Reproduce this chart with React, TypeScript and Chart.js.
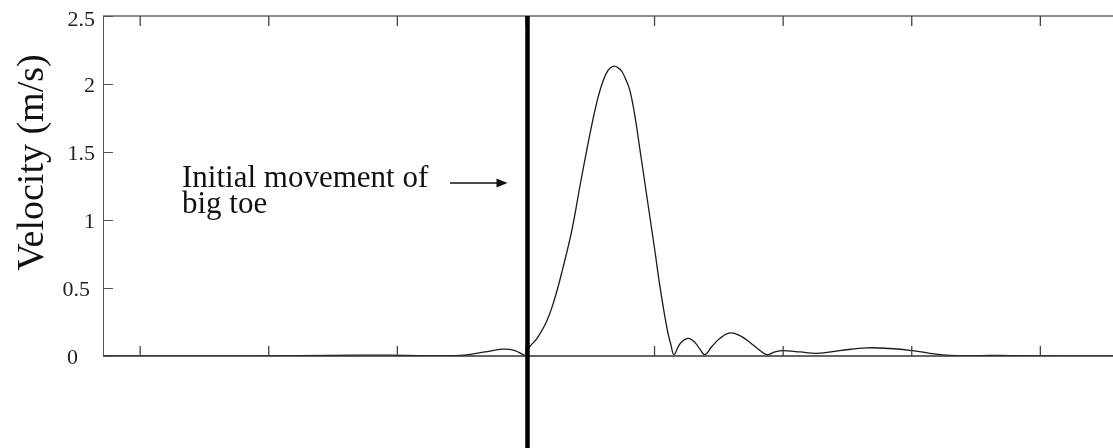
import React, { useEffect, useRef } from "react";
import { Chart, registerables } from "chart.js";

Chart.register(...registerables);

// time axis (tick every 1 unit, no labels shown)
const X_TIME = [
  -3.289, -2.535, -1.757, -1.306, -1.058, -0.824, -0.591, -0.459, -0.319, -0.179,
  -0.086, -0.023, -0.008, 0.031, 0.086, 0.163, 0.226, 0.288, 0.358, 0.42,
  0.474, 0.521, 0.56, 0.599, 0.638, 0.677, 0.715, 0.747, 0.778, 0.809,
  0.848, 0.886, 0.925, 0.964, 1.003, 1.042, 1.073, 1.104, 1.128, 1.151,
  1.198, 1.26, 1.314, 1.353, 1.392, 1.446, 1.509, 1.586, 1.664, 1.742,
  1.82, 1.874, 1.936, 1.998, 2.131, 2.263, 2.442, 2.652, 2.83, 3.002,
  3.142, 3.297, 3.53, 3.686, 3.841, 4.565,
];
const VELOCITY = [
  0, 0, 0.002, 0.006, 0.006, 0.003, 0.003, 0.008, 0.03, 0.05,
  0.04, 0.01, 0.005, 0.07, 0.13, 0.26, 0.43, 0.65, 0.93, 1.25,
  1.52, 1.74, 1.9, 2.02, 2.1, 2.13, 2.12, 2.09, 2.03, 1.95,
  1.76, 1.52, 1.27, 1.02, 0.77, 0.51, 0.33, 0.17, 0.08, 0.01,
  0.09, 0.13, 0.1, 0.05, 0.01, 0.07, 0.13, 0.17, 0.15, 0.1,
  0.04, 0.01, 0.03, 0.04, 0.03, 0.02, 0.04, 0.06, 0.055, 0.04,
  0.02, 0.005, 0.003, 0.004, 0.002, 0,
];
const Y_TICK_LABELS = ["0", "0.5", "1", "1.5", "2", "2.5"];
const X_MIN = -3.289;
const X_MAX = 4.565;
const ONSET = 0.012;
const Y_TITLE = "Velocity (m/s)";
const ANNOTATION_LINES = ["Initial movement of", "big toe"];

// style: right edge of each y tick label (px), as in the original figure
const Y_LABEL_RIGHT = [78, 90, 95, 95, 95, 95];

const framePlugin = {
  id: "frame",
  afterDatasetsDraw(chart: any) {
    const { ctx, chartArea, scales } = chart;
    const xs = scales.x;
    const ys = scales.y;
    const { left, right, top, bottom } = chartArea;
    ctx.save();
    // left axis
    ctx.strokeStyle = "#555";
    ctx.lineWidth = 1;
    ctx.beginPath();
    ctx.moveTo(left + 0.5, top);
    ctx.lineTo(left + 0.5, bottom);
    ctx.stroke();
    // top border
    ctx.strokeStyle = "#666";
    ctx.lineWidth = 1.5;
    ctx.beginPath();
    ctx.moveTo(left, top);
    ctx.lineTo(right, top);
    ctx.stroke();
    // bottom axis
    ctx.strokeStyle = "#333";
    ctx.lineWidth = 1.6;
    ctx.beginPath();
    ctx.moveTo(left, bottom);
    ctx.lineTo(right, bottom);
    ctx.stroke();
    // y ticks (inward) and labels
    ctx.strokeStyle = "#555";
    ctx.lineWidth = 1;
    ctx.fillStyle = "#222";
    ctx.font = "22px 'Liberation Serif', serif";
    ctx.textAlign = "right";
    ctx.textBaseline = "middle";
    ys.ticks.forEach((t: any, i: number) => {
      const yp = ys.getPixelForValue(t.value);
      const py = Math.round(yp) + 0.5;
      ctx.beginPath();
      ctx.moveTo(left, py);
      ctx.lineTo(left + 10, py);
      ctx.stroke();
      const ly = i === ys.ticks.length - 1 ? yp + 4 : yp + 2;
      ctx.fillText(Y_TICK_LABELS[i], Y_LABEL_RIGHT[i], ly);
    });
    // x ticks (inward, bottom and top)
    ctx.strokeStyle = "#444";
    ctx.lineWidth = 1.3;
    xs.ticks.forEach((t: any) => {
      const px = xs.getPixelForValue(t.value);
      if (px <= left + 2 || px >= right - 2) return;
      ctx.beginPath();
      ctx.moveTo(px, bottom);
      ctx.lineTo(px, bottom - 10);
      ctx.moveTo(px, top);
      ctx.lineTo(px, top + 10);
      ctx.stroke();
    });
    // onset line
    const ox = xs.getPixelForValue(ONSET);
    ctx.strokeStyle = "#000";
    ctx.lineWidth = 4.5;
    ctx.beginPath();
    ctx.moveTo(ox, top);
    ctx.lineTo(ox, chart.height);
    ctx.stroke();
    // annotation
    ctx.fillStyle = "#111";
    ctx.font = "31px 'Liberation Serif', serif";
    ctx.textAlign = "left";
    ctx.textBaseline = "alphabetic";
    ctx.fillText(ANNOTATION_LINES[0], 182, 187);
    ctx.fillText(ANNOTATION_LINES[1], 182, 213);
    // arrow
    const ay = 183;
    const tipX = ox - 20;
    ctx.strokeStyle = "#111";
    ctx.lineWidth = 1.5;
    ctx.beginPath();
    ctx.moveTo(450, ay);
    ctx.lineTo(tipX - 8, ay);
    ctx.stroke();
    ctx.beginPath();
    ctx.moveTo(tipX, ay);
    ctx.lineTo(tipX - 11, ay - 4.5);
    ctx.lineTo(tipX - 11, ay + 4.5);
    ctx.closePath();
    ctx.fill();
    // y title
    ctx.save();
    ctx.translate(43, 162.5);
    ctx.rotate(-Math.PI / 2);
    ctx.font = "38px 'Liberation Serif', serif";
    ctx.textAlign = "center";
    ctx.fillText(Y_TITLE, 0, 0);
    ctx.restore();
    ctx.restore();
  },
};

export default function App() {
  const ref = useRef<HTMLCanvasElement>(null);
  useEffect(() => {
    if (!ref.current) return;
    const chart = new Chart(ref.current, {
      type: "line",
      data: {
        datasets: [
          {
            data: X_TIME.map((x, i) => ({ x, y: VELOCITY[i] })),
            borderColor: "#1a1a1a",
            borderWidth: 1.3,
            pointRadius: 0,
            tension: 0.4,
            fill: false,
          },
        ],
      },
      options: {
        animation: false,
        responsive: true,
        maintainAspectRatio: false,
        layout: { padding: { top: 16, right: 0, left: 0, bottom: 0 } },
        plugins: { legend: { display: false }, tooltip: { enabled: false } },
        scales: {
          x: {
            type: "linear",
            min: X_MIN,
            max: X_MAX,
            ticks: { display: false, stepSize: 1, includeBounds: false },
            grid: { display: false },
            border: { display: false },
            afterFit: (s: any) => {
              s.height = 92;
              s.paddingLeft = 0;
              s.paddingRight = 0;
            },
          },
          y: {
            min: 0,
            max: 2.5,
            ticks: { display: false, stepSize: 0.5 },
            grid: { display: false },
            border: { display: false },
            afterFit: (s: any) => {
              s.width = 103;
              s.paddingTop = 0;
              s.paddingBottom = 0;
            },
          },
        },
      },
      plugins: [framePlugin],
    } as any);
    return () => chart.destroy();
  }, []);
  return (
    <div style={{ position: "absolute", left: 0, top: 0, width: 1113, height: 448, background: "#fff" }}>
      <canvas ref={ref} />
    </div>
  );
}
